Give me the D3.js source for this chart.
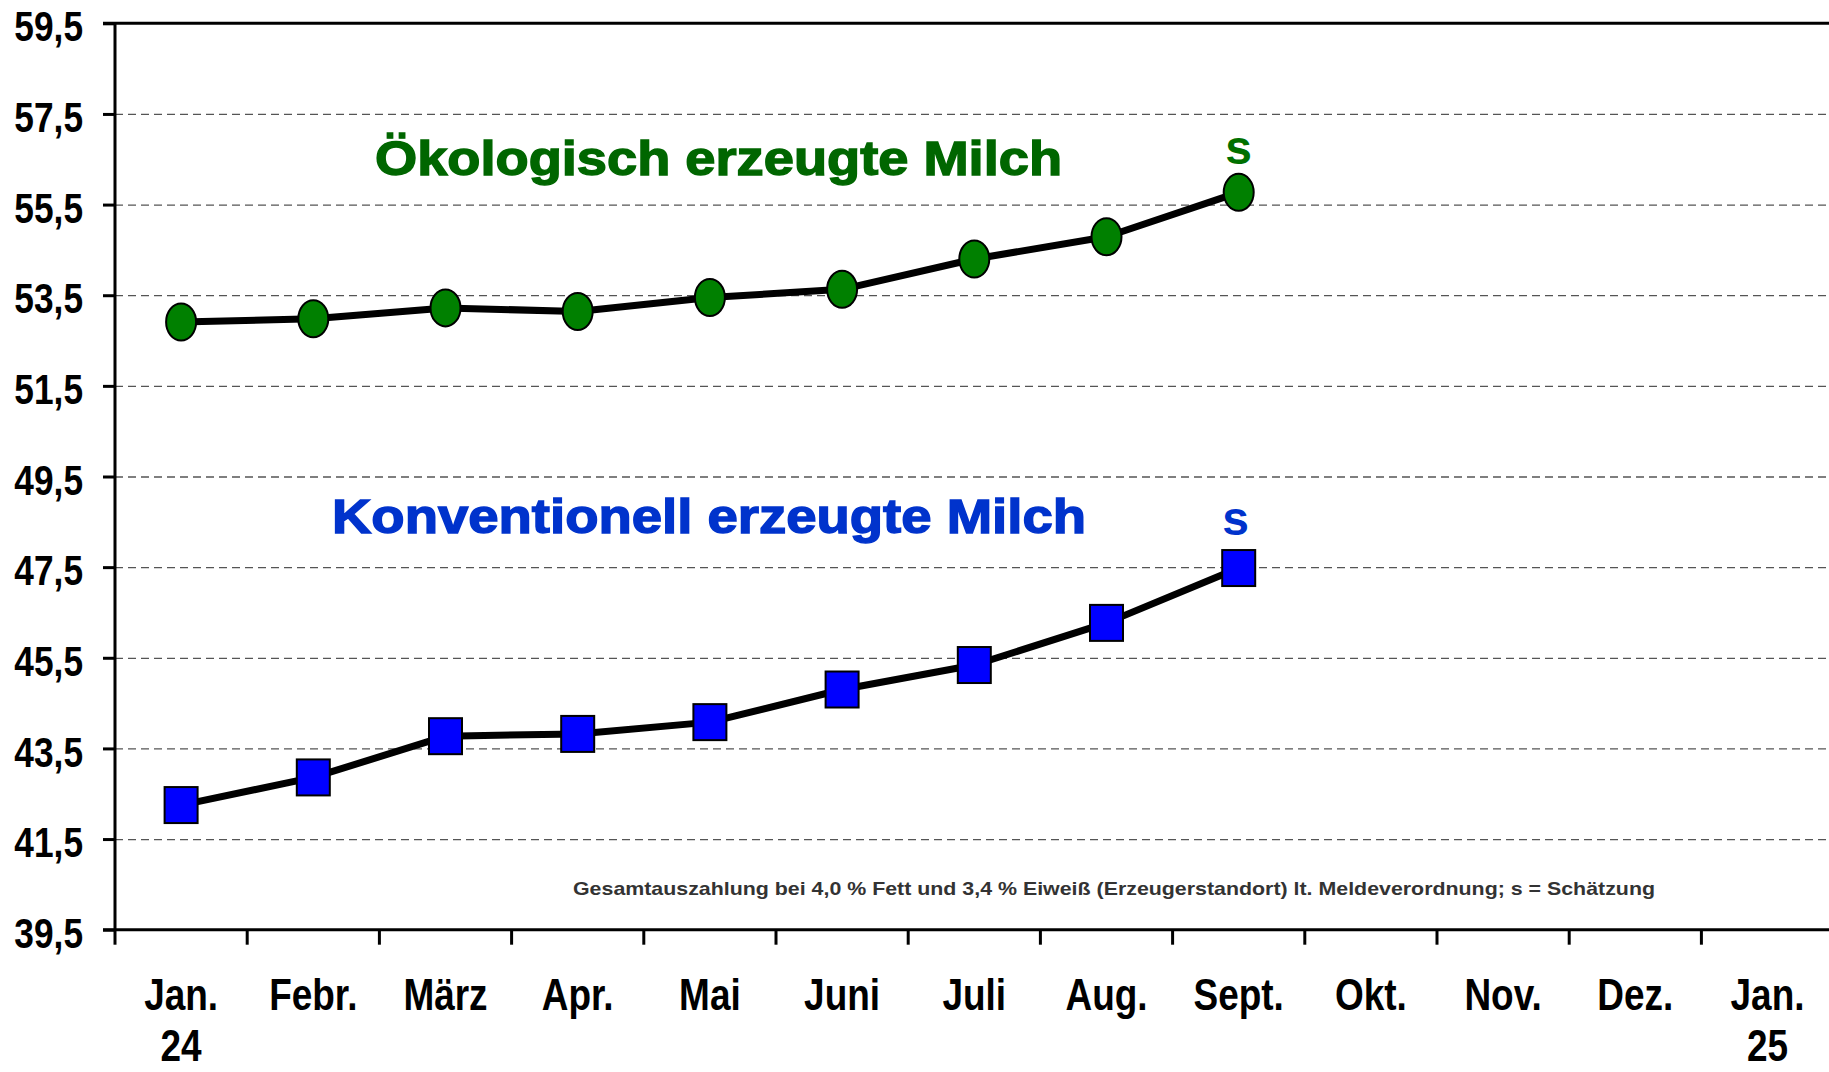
<!DOCTYPE html>
<html>
<head>
  <meta charset="utf-8">
  <title>Milchpreise</title>
  <script src="https://cdn.jsdelivr.net/npm/d3@7/dist/d3.min.js"></script>
  <style type="text/css">
  html, body {
    margin: 0;
    background-color: #fff;
  }
  .tick-label {
    font-family: "Liberation Sans", Arial, sans-serif;
    font-weight: bold;
    fill: #000;
  }
  .grid line {
    stroke: #555;
    stroke-width: 1.3px;
    stroke-dasharray: 8, 5;
  }
  .axis-line {
    stroke: #000;
    stroke-width: 3px;
  }
  .series-line {
    fill: none;
    stroke: #000;
    stroke-width: 7px;
    stroke-linejoin: round;
  }
  .title {
    font-family: "Liberation Sans", Arial, sans-serif;
    font-weight: bold;
    font-size: 48px;
  }
  .note {
    font-family: "Liberation Sans", Arial, sans-serif;
    font-weight: bold;
    font-size: 18.5px;
    fill: #333;
  }
  </style>
</head>

<body>
  <div id='chart'></div>
</body>

<script>
var width = 1829,
    height = 1072;

// data
var months = ["Jan. 24", "Febr.", "März", "Apr.", "Mai", "Juni", "Juli",
              "Aug.", "Sept.", "Okt.", "Nov.", "Dez.", "Jan. 25"];
var oeko = [52.91, 52.98, 53.22, 53.14, 53.45, 53.63, 54.30, 54.79, 55.77];
var konv = [42.25, 42.86, 43.77, 43.82, 44.08, 44.80, 45.34, 46.27, 47.48];
var yTicks = [39.5, 41.5, 43.5, 45.5, 47.5, 49.5, 51.5, 53.5, 55.5, 57.5, 59.5];

// the original labels use a narrow bold face
var narrow = 0.84;

var svg = d3.select("#chart").append("svg")
            .attr("width", width)
            .attr("height", height);

var x = d3.scaleBand()
          .domain(months)
          .range([115, 1833.6])
          .padding(0);

var y = d3.scaleLinear()
          .domain([39.5, 59.5])
          .range([929.7, 23.3]);

// dashed grid
svg.append("g")
   .attr("class", "grid")
   .attr("transform", "translate(115,0)")
   .call(d3.axisLeft(y)
           .tickValues(yTicks.slice(1, -1))
           .tickSize(-(width - 115))
           .tickFormat(""))
   .call(function(g) { g.select(".domain").remove(); });

// y axis
var yAxis = svg.append("g")
   .attr("transform", "translate(115,0)")
   .call(d3.axisLeft(y)
           .tickValues(yTicks)
           .tickSize(12)
           .tickPadding(20)
           .tickFormat(function(d) { return d.toFixed(1).replace(".", ","); }));
yAxis.select(".domain").remove();
yAxis.selectAll(".tick line")
     .attr("stroke", "#000")
     .attr("stroke-width", 3);
yAxis.selectAll(".tick text")
     .attr("class", "tick-label")
     .attr("font-size", 42)
     .attr("x", -32 / narrow)
     .attr("transform", "scale(" + narrow + ",1)")
     .attr("dy", "0.42em");

svg.append("line")
   .attr("class", "axis-line")
   .attr("x1", 115).attr("x2", 115)
   .attr("y1", y(59.5)).attr("y2", y(39.5));

svg.append("line")
   .attr("class", "axis-line")
   .attr("x1", 103).attr("x2", width)
   .attr("y1", y(59.5)).attr("y2", y(59.5));

svg.append("line")
   .attr("class", "axis-line")
   .attr("x1", 103).attr("x2", width)
   .attr("y1", y(39.5)).attr("y2", y(39.5));

// x ticks sit on the band edges
svg.append("g")
   .selectAll("line")
   .data(months)
   .enter().append("line")
   .attr("x1", function(d) { return x(d); })
   .attr("x2", function(d) { return x(d); })
   .attr("y1", y(39.5))
   .attr("y2", y(39.5) + 15)
   .attr("stroke", "#000")
   .attr("stroke-width", 3);

var xLabels = svg.append("g")
   .selectAll("text")
   .data(months)
   .enter().append("text")
   .attr("class", "tick-label")
   .attr("font-size", 44)
   .attr("text-anchor", "middle")
   .attr("transform", function(d) {
     return "translate(" + (x(d) + x.bandwidth() / 2) + ",0) scale(" + narrow + ",1)";
   });
xLabels.append("tspan")
   .attr("x", 0)
   .attr("y", 1010)
   .text(function(d) { return d.split(" ")[0]; });
xLabels.append("tspan")
   .attr("x", 0)
   .attr("y", 1061)
   .text(function(d) { return d.split(" ")[1] || ""; });

// series
var line = d3.line()
             .x(function(d, i) { return x(months[i]) + x.bandwidth() / 2; })
             .y(function(d) { return y(d); });

svg.append("path")
   .datum(oeko)
   .attr("class", "series-line")
   .attr("d", line);

svg.append("path")
   .datum(konv)
   .attr("class", "series-line")
   .attr("d", line);

svg.append("g")
   .selectAll("ellipse")
   .data(oeko)
   .enter().append("ellipse")
   .attr("cx", function(d, i) { return x(months[i]) + x.bandwidth() / 2; })
   .attr("cy", function(d) { return y(d); })
   .attr("rx", 15)
   .attr("ry", 18.5)
   .attr("fill", "#008000")
   .attr("stroke", "#000")
   .attr("stroke-width", 2);

svg.append("g")
   .selectAll("rect")
   .data(konv)
   .enter().append("rect")
   .attr("x", function(d, i) { return x(months[i]) + x.bandwidth() / 2 - 16.5; })
   .attr("y", function(d) { return y(d) - 18; })
   .attr("width", 33)
   .attr("height", 36)
   .attr("fill", "#0000ff")
   .attr("stroke", "#000")
   .attr("stroke-width", 2);

// "s" = Schätzung on the last value
var last = oeko.length - 1;
svg.append("text")
   .attr("class", "title")
   .attr("font-size", 34)
   .attr("fill", "#007000")
   .attr("text-anchor", "middle")
   .attr("x", x(months[last]) + x.bandwidth() / 2)
   .attr("y", 164)
   .text("s");

svg.append("text")
   .attr("class", "title")
   .attr("font-size", 34)
   .attr("fill", "#0033cc")
   .attr("text-anchor", "middle")
   .attr("x", x(months[last]) + x.bandwidth() / 2 - 3)
   .attr("y", 535)
   .text("s");

// series titles
svg.append("text")
   .attr("class", "title")
   .attr("x", 375)
   .attr("y", 175)
   .attr("fill", "#006600")
   .attr("stroke", "#006600")
   .attr("stroke-width", 1.4)
   .attr("textLength", 687)
   .attr("lengthAdjust", "spacingAndGlyphs")
   .text("Ökologisch erzeugte Milch");

svg.append("text")
   .attr("class", "title")
   .attr("x", 332)
   .attr("y", 533)
   .attr("fill", "#0033cc")
   .attr("stroke", "#0033cc")
   .attr("stroke-width", 1.4)
   .attr("textLength", 754)
   .attr("lengthAdjust", "spacingAndGlyphs")
   .text("Konventionell erzeugte Milch");

svg.append("text")
   .attr("class", "note")
   .attr("x", 573)
   .attr("y", 895)
   .attr("textLength", 1082)
   .attr("lengthAdjust", "spacingAndGlyphs")
   .text("Gesamtauszahlung bei 4,0 % Fett und 3,4 % Eiweiß (Erzeugerstandort) lt. Meldeverordnung; s = Schätzung");
</script>

</html>
